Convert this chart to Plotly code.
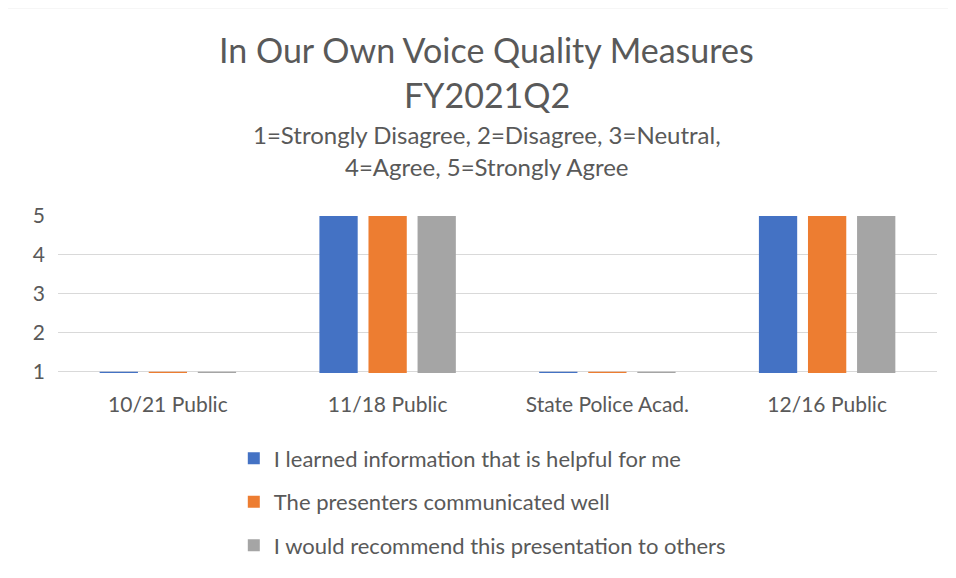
import plotly.graph_objects as go

categories = ["10/21 Public", "11/18 Public", "State Police Acad.", "12/16 Public"]
series_names = [
    "I learned information that is helpful for me",
    "The presenters communicated well",
    "I would recommend this presentation to others",
]
learned = [1, 5, 1, 5]
communicated = [1, 5, 1, 5]
recommend = [1, 5, 1, 5]
colors = ["#4472C4", "#ED7D31", "#A5A5A5"]
y_ticks = [1, 2, 3, 4, 5]

FONT = "Lato, 'Open Sans', sans-serif"
GREY = "#595959"

fig = go.Figure()
for i, (name, vals) in enumerate(zip(series_names, [learned, communicated, recommend])):
    fig.add_trace(go.Bar(
        x=categories,
        y=vals,
        name=name,
        legendgroup=f"g{i}",
        marker=dict(color=colors[i], line=dict(width=0)),
    ))

# title lines placed as annotations so each line sits where the original does
title_lines = [
    ("In Our Own Voice Quality Measures", 2.062, 34),
    ("FY2021Q2", 1.772, 34),
    ("1=Strongly Disagree, 2=Disagree, 3=Neutral,", 1.522, 24),
    ("4=Agree, 5=Strongly Agree", 1.315, 24),
]
annotations = [
    dict(text=t, xref="paper", yref="paper", x=0.488, y=y,
         xanchor="center", yanchor="middle", showarrow=False,
         font=dict(size=s, color=GREY, family=FONT))
    for t, y, s in title_lines
]

# page body adds an 8px margin, so the figure is 8px smaller than the window
fig.update_layout(
    width=948,
    height=570,
    paper_bgcolor="white",
    plot_bgcolor="white",
    margin=dict(l=50, r=19, t=208, b=203),
    barmode="group",
    bargap=0.33,
    bargroupgap=0.22,
    font=dict(family=FONT, color=GREY),
    annotations=annotations,
    legend=dict(
        orientation="v",
        x=0.2, xanchor="left",
        y=-0.41, yanchor="top",
        traceorder="grouped",
        tracegroupgap=12,
        font=dict(size=22, color=GREY, family=FONT),
        bgcolor="rgba(0,0,0,0)",
    ),
    shapes=[
        dict(type="line", xref="paper", yref="paper", x0=-0.062, x1=1.1,
             y0=2.33, y1=2.33, line=dict(color="#D9D9D9", width=2)),
        dict(type="line", xref="paper", yref="paper", x0=-0.062, x1=-0.062,
             y0=2.33, y1=-1.5, line=dict(color="#D9D9D9", width=2)),
    ],
)

fig.update_yaxes(
    range=[0.97, 5.0],
    tickvals=y_ticks,
    showgrid=True,
    gridcolor="#D9D9D9",
    gridwidth=1,
    zeroline=False,
    showline=False,
    ticks="",
    ticklabelstandoff=12,
    tickfont=dict(size=21, color=GREY, family=FONT),
)
fig.update_xaxes(
    showline=False,
    ticks="",
    ticklabelstandoff=17,
    tickfont=dict(size=21, color=GREY, family=FONT),
)

fig.write_html("out.html")
